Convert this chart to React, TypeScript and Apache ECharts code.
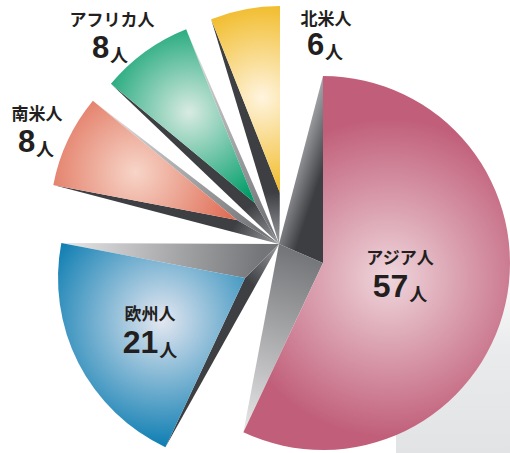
import React, { useEffect, useRef } from "react";
import * as echarts from "echarts";

// ---- data ----
const categories = ["アジア人", "欧州人", "南米人", "アフリカ人", "北米人"];
const values = [57, 21, 8, 8, 6];
const unit = "人";

// ---- layout / style ----
const W = 510;
const H = 453;
const APEX = [279, 244];
const RADIUS = 187;
const vertexOffsets = [
  [44, 19],
  [-34, 34],
  [-42, -24],
  [-24, -41],
  [1, -51],
];
const edgeColors = ["#c15f7a", "#0077ae", "#e06f58", "#009d69", "#f0b71a"];
const centerColors = ["#efd6dc", "#e4e7f1", "#f7d5c8", "#d9ebe3", "#fff4de"];
const glowDist = [0.36, 0.5, 0.6, 0.6, 0.52];
const glowRadius = [0.85, 0.72, 0.55, 0.55, 0.55];
const namePos = [
  [400, 256],
  [150, 312],
  [37, 112],
  [112, 18],
  [326, 17],
];
const valuePos = [
  [400, 289],
  [150, 345],
  [36, 144],
  [110, 50],
  [325, 47],
];
const digitSize = [32, 32, 31, 31, 31];

const TEXT_COLOR = "#231f20";
const JP_FONT = "'Noto Sans CJK JP', 'Noto Sans', sans-serif";
const NUM_FONT = "'Liberation Sans', Arial, sans-serif";

export default function App() {
  const ref = useRef<HTMLDivElement>(null);
  useEffect(() => {
    if (!ref.current) return;
    const chart = echarts.init(ref.current, undefined, { renderer: "svg" });
    const total = values.reduce((a, b) => a + b, 0);
    const cum: number[] = [];
    values.reduce((acc, v, i) => {
      cum[i] = acc;
      return acc + v;
    }, 0);

    const renderItem = (params: any, api: any) => {
      const i = params.dataIndex;
      const v = api.value(0);
      const thetaS = 90 - (360 * cum[i]) / total; // math degrees
      const span = (360 * v) / total;
      const thetaE = thetaS - span;
      const V = [APEX[0] + vertexOffsets[i][0], APEX[1] + vertexOffsets[i][1]];
      const rad = (d: number) => (d * Math.PI) / 180;
      const pt = (d: number, r: number) => [
        V[0] + r * Math.cos(rad(d)),
        V[1] - r * Math.sin(rad(d)),
      ];
      const A = pt(thetaS, RADIUS);
      const B = pt(thetaE, RADIUS);
      const mid = (thetaS + thetaE) / 2;
      const G = pt(mid, RADIUS * glowDist[i]);

      const darkGrad = new echarts.graphic.LinearGradient(
        APEX[0], APEX[1], V[0], V[1],
        [
          { offset: 0, color: "#9c9da0" },
          { offset: 1, color: "#3e3f42" },
        ],
        true
      );
      const midAV = [(A[0] + V[0]) / 2, (A[1] + V[1]) / 2];
      const darkGrad2 = new echarts.graphic.LinearGradient(
        (APEX[0] + A[0]) / 2 - 6, (APEX[1] + A[1]) / 2, midAV[0], midAV[1],
        [
          { offset: 0, color: "#a2a3a6" },
          { offset: 1, color: "#3d3e41" },
        ],
        true
      );
      const lightGrad = new echarts.graphic.LinearGradient(
        B[0], B[1], (V[0] + APEX[0]) / 2, (V[1] + APEX[1]) / 2,
        [
          { offset: 0, color: "#e8e8e9" },
          { offset: 1, color: "#747578" },
        ],
        true
      );
      const radial = new echarts.graphic.RadialGradient(
        G[0], G[1], RADIUS * glowRadius[i],
        [
          { offset: 0, color: centerColors[i] },
          { offset: 1, color: edgeColors[i] },
        ],
        true
      );
      const sa = -rad(thetaS);
      const ea = sa + rad(span);
      return {
        type: "group",
        children: [
          {
            type: "polygon",
            z2: 1,
            shape: { points: [APEX, V, A] },
            style: { fill: i === 0 ? darkGrad2 : darkGrad },
          },
          {
            type: "polygon",
            z2: 1,
            shape: { points: [APEX, V, B] },
            style: { fill: lightGrad },
          },
          {
            type: "sector",
            z2: 10,
            shape: {
              cx: V[0],
              cy: V[1],
              r0: 0,
              r: RADIUS,
              startAngle: sa,
              endAngle: ea,
              clockwise: true,
            },
            style: { fill: radial },
          },
          {
            type: "text",
            z2: 20,
            style: {
              text: categories[i],
              x: namePos[i][0],
              y: namePos[i][1],
              align: "center",
              verticalAlign: "middle",
              fill: TEXT_COLOR,
              font: `bold 17px ${JP_FONT}`,
            },
          },
          {
            type: "text",
            z2: 20,
            style: {
              text: `{n|${v}}{u|${unit}}`,
              x: valuePos[i][0],
              y: valuePos[i][1],
              align: "center",
              verticalAlign: "middle",
              fill: TEXT_COLOR,
              rich: {
                n: {
                  fontFamily: NUM_FONT,
                  fontWeight: "bold",
                  fontSize: digitSize[i],
                  fill: TEXT_COLOR,
                  verticalAlign: "bottom",
                  lineHeight: digitSize[i] - 6,
                },
                u: {
                  fontFamily: JP_FONT,
                  fontWeight: "bold",
                  fontSize: 18,
                  fill: TEXT_COLOR,
                  verticalAlign: "bottom",
                  lineHeight: 20,
                  padding: [0, 0, 0, 1],
                },
              },
            },
          },
        ],
      };
    };

    chart.setOption({
      animation: false,
      backgroundColor: "#ffffff",
      graphic: [
        {
          type: "rect",
          z: -10,
          shape: { x: 396, y: 260, width: 114, height: 193 },
          style: {
            fill: new echarts.graphic.LinearGradient(0, 0, 0, 1, [
              { offset: 0, color: "#ffffff" },
              { offset: 0.45, color: "#eaebec" },
              { offset: 1, color: "#e2e3e4" },
            ]),
          },
        },
      ],
      series: [
        {
          type: "custom",
          coordinateSystem: "none",
          data: values.map((v, i) => ({ name: categories[i], value: [v] })),
          renderItem,
        },
      ],
    });
    return () => chart.dispose();
  }, []);
  return (
    <div
      ref={ref}
      style={{ position: "fixed", left: 0, top: 0, width: W, height: H }}
    />
  );
}
